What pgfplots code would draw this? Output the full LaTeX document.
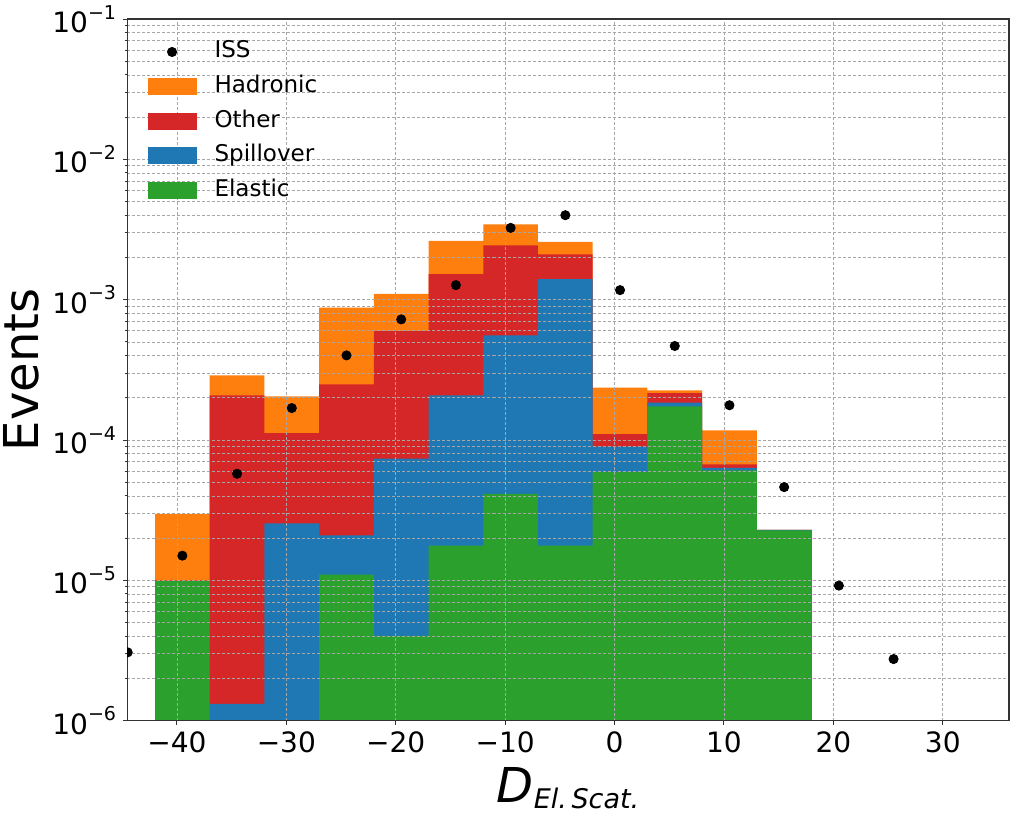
\documentclass[border=0pt]{standalone}
\usepackage{fontspec}
\setmainfont{DejaVu Sans}
\usepackage{pgfplots}
\pgfplotsset{compat=1.18}
\definecolor{cOrange}{HTML}{FF7F0E}
\definecolor{cRed}{HTML}{D62728}
\definecolor{cBlue}{HTML}{1F77B4}
\definecolor{cGreen}{HTML}{2CA02C}
\newcommand{\tenp}[1]{10\raisebox{6.7pt}{\fontsize{9.5pt}{9.5pt}\selectfont #1}}
\begin{document}
\begin{tikzpicture}
\begin{axis}[
  name=ax,
  scale only axis,
  width=440.5pt, height=350.5pt,
  ymode=log,
  xmin=-44.55, xmax=36.05,
  ymin=1e-6, ymax=1e-1,
  axis on top,
  xtick={-40,-30,-20,-10,0,10,20,30},
  xticklabels={−40,−30,−20,−10,0,10,20,30},
  ytick={1e-6,1e-5,1e-4,1e-3,1e-2,1e-1},
  yticklabels={\tenp{−6},\tenp{−5},\tenp{−4},\tenp{−3},\tenp{−2},\tenp{−1}},
  tick align=outside,
  xtick pos=left, ytick pos=left,
  major tick length=2pt, minor tick length=1.2pt,
  tick style={black!80, line width=0.5pt},
  ticklabel style={font=\fontsize{14pt}{14pt}\selectfont},
  xmajorgrids=true, ymajorgrids=true, yminorgrids=true,
  major grid style={gray!70, dash pattern=on 1.5pt off 1pt, line width=0.35pt},
  minor grid style={gray!70, dash pattern=on 1.5pt off 1pt, line width=0.35pt},
  axis line style={black!80, line width=0.6pt},
  xlabel={{\fontsize{24pt}{24pt}\selectfont\itshape D}\raisebox{-3pt}{\fontsize{13.5pt}{13.5pt}\selectfont\itshape El.\,Scat.}},
  xlabel style={at={(axis description cs:0.5,0)}, anchor=base, yshift=-41pt},
  ylabel={\fontsize{24pt}{24pt}\selectfont Events},
  ylabel style={at={(axis description cs:-0.1197,0.5)}, anchor=center},
  legend style={draw=none, fill=none, at={(axis description cs:0.016,0.975)}, anchor=north west,
    font=\fontsize{11.5pt}{11.5pt}\selectfont, row sep=6.25pt, column sep=9pt,
    nodes={inner sep=0pt, text height=8.5pt, text depth=2.5pt}},
  legend cell align=left,
]
\addlegendimage{legend image code/.code={\path[draw=none,fill=none] (0pt,-4pt) rectangle (24pt,4pt); \fill[black] (12pt,0pt) circle (2.3pt);}}
\addlegendentry{ISS}
\addlegendimage{legend image code/.code={\fill[cOrange] (0pt,-4pt) rectangle (24pt,4pt);}}
\addlegendentry{Hadronic}
\addlegendimage{legend image code/.code={\fill[cRed] (0pt,-4pt) rectangle (24pt,4pt);}}
\addlegendentry{Other}
\addlegendimage{legend image code/.code={\fill[cBlue] (0pt,-4pt) rectangle (24pt,4pt);}}
\addlegendentry{Spillover}
\addlegendimage{legend image code/.code={\fill[cGreen] (0pt,-4pt) rectangle (24pt,4pt);}}
\addlegendentry{Elastic}

% Hadronic (cumulative total)
\addplot[const plot, fill=cOrange, draw=none, forget plot] coordinates {
(-42,1e-7) (-42,2.98e-5) (-37,2.89e-4) (-32,2.05e-4) (-27,8.79e-4) (-22,1.10e-3) (-17,2.62e-3)
(-12,3.44e-3) (-7,2.58e-3) (-2,2.36e-4) (3,2.26e-4) (8,1.17e-4) (13,2.29e-5) (18,2.29e-5) (18,1e-7)};
% Other (cumulative)
\addplot[const plot, fill=cRed, draw=none, forget plot] coordinates {
(-42,1e-7) (-42,1.0e-5) (-37,2.08e-4) (-32,1.12e-4) (-27,2.49e-4) (-22,5.98e-4) (-17,1.52e-3)
(-12,2.44e-3) (-7,2.10e-3) (-2,1.10e-4) (3,2.16e-4) (8,6.70e-5) (13,2.29e-5) (18,2.29e-5) (18,1e-7)};
% Spillover (cumulative)
\addplot[const plot, fill=cBlue, draw=none, forget plot] coordinates {
(-42,1e-7) (-42,9.9e-6) (-37,1.32e-6) (-32,2.55e-5) (-27,2.09e-5) (-22,7.36e-5) (-17,2.08e-4)
(-12,5.57e-4) (-7,1.40e-3) (-2,8.99e-5) (3,1.85e-4) (8,6.34e-5) (13,2.29e-5) (18,2.29e-5) (18,1e-7)};
% Elastic
\addplot[const plot, fill=cGreen, draw=none, forget plot] coordinates {
(-42,1e-7) (-42,9.86e-6) (-37,1e-7) (-32,1e-7) (-27,1.10e-5) (-22,4.03e-6) (-17,1.77e-5)
(-12,4.14e-5) (-7,1.77e-5) (-2,5.90e-5) (3,1.74e-4) (8,6.07e-5) (13,2.27e-5) (18,2.27e-5) (18,1e-7)};
\end{axis}
\begin{axis}[
  at={(ax.south west)}, anchor=south west,
  scale only axis,
  width=440.5pt, height=350.5pt,
  ymode=log,
  xmin=-44.55, xmax=36.05,
  ymin=1e-6, ymax=1e-1,
  hide axis,
  clip marker paths=true,
]
% ISS
\addplot[only marks, mark=*, mark size=2.3pt, black] coordinates {
(-44.5,3.07e-6) (-39.5,1.50e-5) (-34.5,5.75e-5) (-29.5,1.69e-4) (-24.5,4.01e-4) (-19.5,7.24e-4)
(-14.5,1.27e-3) (-9.5,3.25e-3) (-4.5,4.0e-3) (0.5,1.17e-3) (5.5,4.68e-4) (10.5,1.77e-4)
(15.5,4.62e-5) (20.5,9.18e-6) (25.5,2.75e-6)};
\end{axis}
\pgfresetboundingbox
\path ([shift={(-63.5pt,-49pt)}]ax.south west) rectangle ([shift={(0.5pt,9.5pt)}]ax.north east);
\end{tikzpicture}
\end{document}
